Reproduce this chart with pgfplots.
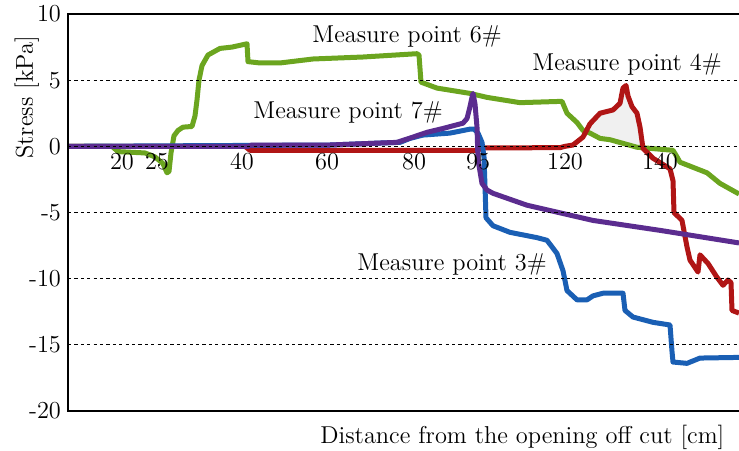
\documentclass[border=0pt]{standalone}
\usepackage{pgfplots}
\pgfplotsset{compat=1.18}
\definecolor{cgreen}{HTML}{6BA51F}
\definecolor{cred}{HTML}{B01515}
\definecolor{cblue}{HTML}{1A5FB4}
\definecolor{cpurple}{HTML}{5B2C8F}
\definecolor{cfill}{HTML}{F0F0F0}
\begin{document}
\begin{tikzpicture}[font=\fontsize{12.2}{14}\selectfont]
\begin{axis}[
  at={(0,0)}, anchor=south west,
  scale only axis, width=335.5pt, height=198.5pt,
  xmin=68, xmax=739, ymin=-20, ymax=10,
  axis x line=middle, axis y line=left,
  axis line style={draw=none},
  hide obscured x ticks=false, hide obscured y ticks=false,
  xtick={122,157,242,327,414,478,565,660},
  xticklabels={20,25,40,60,80,95,120,140},
  ytick={-20,-15,-10,-5,0,5,10},
  yticklabels={-20,-15,-10,-5,0,5,10},
  major tick length=0pt,
  ymajorgrids, grid style={black, line width=0.5pt, dash pattern=on 1.6pt off 1.6pt},
  axis on top,
  clip mode=individual,
  every axis plot/.append style={line width=2.5pt, line join=round},
]
\addplot[fill=cfill, draw=none, line width=0pt] coordinates {
(586,1.1)(590,1.7)(600,2.5)(613,2.75)(620,3.25)(623,4.4)(626,4.6)(628,3.8)(632,3.0)(637,2.5)(640,1.45)(643,-0.1)(637,-0.07)(610,0.5)(600,0.6)(590,1.0)(586,1.1)} -- cycle;
% Measure point 6#
\addplot[cgreen, no marks] coordinates {
(68,0)(112,0)(118,-0.4)(145,-0.5)(155,-0.8)(163,-1.3)(167,-2.0)(169,-1.9)(171,-0.5)(174,0.8)(178,1.2)(183,1.45)(192,1.5)(195,2.3)(197,3.5)(199,5.0)(202,6.1)(208,6.9)(220,7.4)(232,7.5)(247,7.75)(248,6.4)(260,6.3)(280,6.3)(313,6.6)(363,6.75)(417,7.0)(419,6.9)(421,4.85)(437,4.4)(470,4.0)(487,3.7)(520,3.3)(562,3.4)(567,2.5)(577,1.8)(583,1.2)(590,1.0)(600,0.6)(610,0.5)(637,-0.07)(673,-0.3)(677,-0.8)(680,-1.2)(707,-2.0)(720,-2.8)(739,-3.6)};
% Measure point 4#
\addplot[cred, no marks] coordinates {
(68,0)(245,0)(250,-0.3)(477,-0.3)(483,-0.12)(560,-0.1)(565,0)(573,0.1)(583,0.7)(590,1.7)(600,2.5)(613,2.75)(620,3.25)(623,4.4)(626,4.6)(628,3.8)(632,3.0)(637,2.5)(640,1.45)(643,-0.15)(653,-0.9)(670,-1.7)(673,-2.6)(674,-5.0)(682,-5.6)(687,-7.6)(690,-8.6)(698,-9.5)(700,-8.2)(708,-8.85)(717,-9.9)(723,-10.5)(728,-10.1)(731,-10.3)(732,-12.4)(739,-12.6)};
% Measure point 3#
\addplot[cblue, no marks] coordinates {
(68,0)(330,0.1)(380,0.25)(400,0.3)(410,0.6)(423,0.85)(450,1.0)(470,1.3)(474,1.3)(478,1.0)(482,0.3)(484,-0.8)(485,-3)(486,-5.4)(493,-6.0)(510,-6.5)(537,-6.9)(547,-7.1)(557,-8.1)(563,-9.4)(567,-10.9)(577,-11.6)(587,-11.6)(593,-11.3)(603,-11.1)(623,-11.1)(625,-12.4)(633,-12.9)(653,-13.3)(670,-13.5)(672,-15.5)(673,-16.3)(687,-16.4)(700,-16.0)(739,-15.95)};
% Measure point 7#
\addplot[cpurple, no marks] coordinates {
(68,0)(248,0)(252,0.1)(330,0.1)(397,0.3)(413,0.7)(427,1.06)(443,1.35)(463,1.75)(467,2.1)(470,3.0)(472,3.7)(473,4.0)(475,3.2)(477,1.45)(478,-1.0)(482,-2.8)(487,-3.3)(493,-3.55)(527,-4.45)(593,-5.6)(660,-6.35)(739,-7.3)};
\draw[line width=1.3pt, line cap=rect] (rel axis cs:1,1) -- (rel axis cs:0,1) -- (rel axis cs:0,0) -- (rel axis cs:1,0);
\node[anchor=base west, inner sep=0pt] at (axis cs:312,7.86) {Measure point 6\#};
\node[anchor=base west, inner sep=0pt] at (axis cs:532,5.74) {Measure point 4\#};
\node[anchor=base west, inner sep=0pt] at (axis cs:253,2.12) {Measure point 7\#};
\node[anchor=base west, inner sep=0pt] at (axis cs:357,-9.37) {Measure point 3\#};
\node[anchor=base west, inner sep=0pt] at (axis cs:320,-22.45) {Distance from the opening off cut [cm]};
\node[anchor=base, rotate=90, inner sep=0pt] at (axis cs:33,3.70) {Stress [kPa]};
\end{axis}
\pgfresetboundingbox
\path[use as bounding box] (-34pt,-19.5pt) rectangle (335.5pt,205.5pt);
\end{tikzpicture}
\end{document}
